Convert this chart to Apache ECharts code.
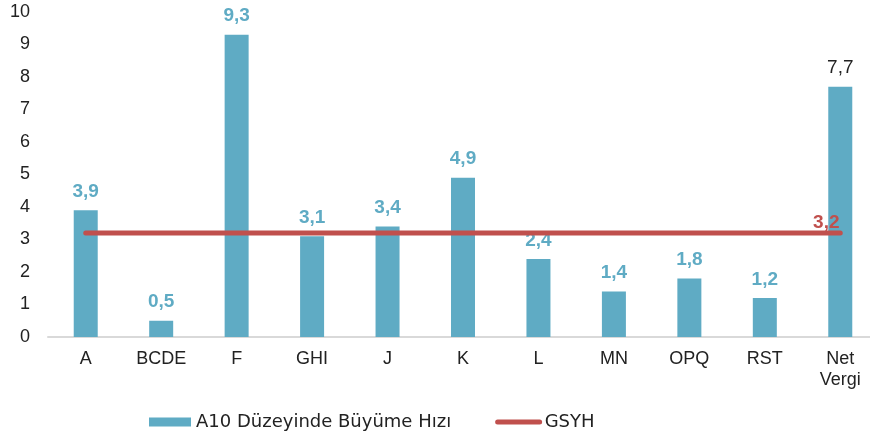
<!DOCTYPE html>
<html>
<head>
<meta charset="utf-8">
<script src="https://cdn.jsdelivr.net/npm/echarts@6/dist/echarts.min.js"></script>
<style>
  html, body { margin: 0; padding: 0; background: #fff; }
  #chart { width: 870px; height: 433px; }
</style>
</head>
<body>
<div id="chart"></div>
<script>
const categories = ['A', 'BCDE', 'F', 'GHI', 'J', 'K', 'L', 'MN', 'OPQ', 'RST', 'Net\nVergi']
const growth = [3.9, 0.5, 9.3, 3.1, 3.4, 4.9, 2.4, 1.4, 1.8, 1.2, 7.7]
const gsyh = [3.2, 3.2, 3.2, 3.2, 3.2, 3.2, 3.2, 3.2, 3.2, 3.2, 3.2]
const yTicks = [0, 1, 2, 3, 4, 5, 6, 7, 8, 9, 10]

const fmt = v => String(v).replace('.', ',')
const font = 'Liberation Sans, Arial, sans-serif'
const last = categories.length - 1

const chart = echarts.init(document.getElementById('chart'))

// last bar (Net Vergi) has a plain dark label
const barData = growth.map((v, i) => {
  if (i === last) return { value: v, label: { color: '#222', fontWeight: 'normal' } }
  return v
})

chart.setOption({
  animation: false,
  textStyle: { fontFamily: font },
  grid: { left: 48, width: 830, top: 12, height: 325, outerBoundsMode: 'none' },
  legend: {
    left: 144,
    top: 408,
    itemGap: 44,
    itemWidth: 42,
    itemHeight: 9,
    textStyle: { color: '#222', fontSize: 18, fontFamily: 'DejaVu Sans, sans-serif' },
    data: [
      { name: 'A10 Düzeyinde Büyüme Hızı', icon: 'rect' },
      { name: 'GSYH', itemStyle: { opacity: 0 }, lineStyle: { width: 5, cap: 'round', color: '#c0504d' } }
    ]
  },
  xAxis: {
    type: 'category',
    data: categories,
    axisLine: { lineStyle: { color: '#d9d9d9', width: 2 } },
    axisTick: { show: false },
    axisLabel: { color: '#222', fontSize: 18, margin: 12, lineHeight: 21, fontFamily: font }
  },
  yAxis: {
    type: 'value',
    min: yTicks[0],
    max: yTicks[yTicks.length - 1],
    interval: 1,
    axisLine: { show: false },
    axisTick: { show: false },
    splitLine: { show: false },
    axisLabel: { color: '#222', fontSize: 18, margin: 18, fontFamily: font }
  },
  series: [
    {
      name: 'A10 Düzeyinde Büyüme Hızı',
      type: 'bar',
      data: barData,
      barWidth: 24,
      itemStyle: { color: '#5fabc4' },
      label: {
        show: true,
        position: 'top',
        distance: 9,
        color: '#5fabc4',
        fontWeight: 'bold',
        fontSize: 19,
        fontFamily: font,
        formatter: p => fmt(p.value)
      }
    },
    {
      name: 'GSYH',
      type: 'line',
      data: gsyh,
      symbol: 'none',
      itemStyle: { color: '#c0504d' },
      lineStyle: { color: '#c0504d', width: 5, cap: 'round' },
      markPoint: {
        symbol: 'circle',
        symbolSize: 0,
        data: [{ coord: [last, gsyh[last]], value: gsyh[last] }],
        label: {
          show: true,
          position: 'top',
          offset: [-14, 4],
          color: '#c0504d',
          fontWeight: 'bold',
          fontSize: 19,
          fontFamily: font,
          formatter: p => fmt(p.value)
        }
      },
      z: 3
    }
  ]
})
</script>
</body>
</html>
